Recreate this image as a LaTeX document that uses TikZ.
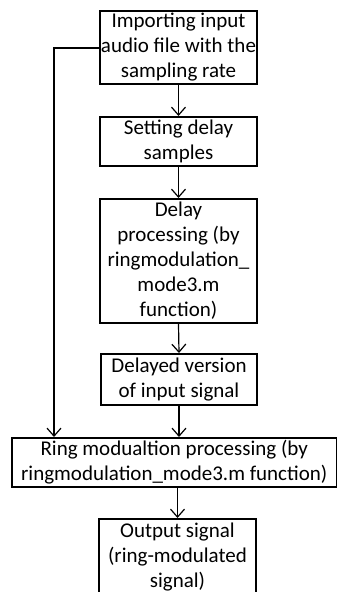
\documentclass[tikz,border=0pt]{standalone}
\usepackage{fontspec}
\setmainfont{Carlito}
\usetikzlibrary{arrows.meta}
\begin{document}
\begin{tikzpicture}[x=1pt,y=1pt,
  box/.style={draw,line width=2pt,inner sep=0pt,align=center,font=\fontsize{21}{25}\selectfont},
  conn/.style={line width=1.2pt,-{Straight Barb[length=8pt,width=14pt,line width=1.2pt]}}]
\useasboundingbox (0,0) rectangle (337,-592);
\node[box,minimum width=157pt,minimum height=73pt] (n1) at (178.5,-47.5) {Importing input\\audio file with the\\sampling rate};
\node[box,minimum width=157pt,minimum height=49pt] (n2) at (178.5,-141.5) {Setting delay\\samples};
\node[box,minimum width=157pt,minimum height=124pt] (n3) at (178.5,-261) {Delay\\processing (by\\ringmodulation\_\\mode3.m\\function)};
\node[box,minimum width=156pt,minimum height=51pt] (n4) at (179,-379.5) {Delayed version\\of input signal};
\node[box,minimum width=324.5pt,minimum height=49pt] (n5) at (174.25,-462.5) {Ring modualtion processing (by\\ringmodulation\_mode3.m function)};
\node[box,minimum width=157pt,minimum height=76pt] (n6) at (177.5,-557) {Output signal\\(ring-modulated\\signal)};
\coordinate (c1) at (54,-48);
\draw[conn] (n1.south) -- (n2.north);
\draw[conn] (n2.south) -- (n3.north);
\draw[conn] (n3.south) -- (n4.north);
\draw[conn] (n4.south) -- (n4.south |- n5.north);
\draw[conn] (n5.south -| n6.north) -- (n6.north);
\draw[conn] (n1.west |- c1) -- (c1) -- (c1 |- n5.north);
\end{tikzpicture}
\end{document}
